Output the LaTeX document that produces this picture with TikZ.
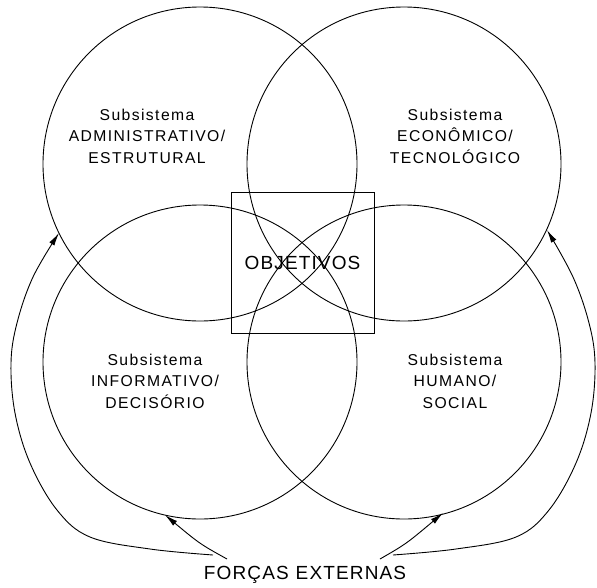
\documentclass[tikz,border=0pt]{standalone}
\usepackage{fontspec}
\setmainfont{Liberation Sans}
\newfontfamily\lab[LetterSpace=9]{Liberation Sans}
\newfontfamily\biglab[LetterSpace=6]{Liberation Sans}
\usetikzlibrary{arrows.meta}
\begin{document}
\begin{tikzpicture}[x=1pt,y=-1pt,
  ring/.style={draw, circle, line width=0.9pt, minimum size=314pt, inner sep=0pt},
  sub/.style={align=center, font=\lab\fontsize{15.7}{21.5}\selectfont, inner sep=0pt},
  force/.style={line width=0.9pt, -{Latex[length=13pt,width=6pt]}}]
\useasboundingbox (0,0) rectangle (597,587);
\node[ring] (tl) at (200,164) {};
\node[ring] (tr) at (404,164) {};
\node[ring] (bl) at (200,362) {};
\node[ring] (br) at (404,362) {};
\node[draw, line width=0.9pt, minimum width=143pt, minimum height=141pt, inner sep=0pt,
      font=\biglab\fontsize{19}{20}\selectfont] (obj) at (302.5,262.5) {OBJETIVOS};
\node[sub] (ttl) at (147,136) {Subsistema\\ADMINISTRATIVO/\\ESTRUTURAL};
\node[sub] (ttr) at (455,136) {Subsistema\\ECONÔMICO/\\TECNOLÓGICO};
\node[sub] (tbl) at (155,381) {Subsistema\\INFORMATIVO/\\DECISÓRIO};
\node[sub] (tbr) at (455,381) {Subsistema\\HUMANO/\\SOCIAL};
\node[inner sep=0pt, font=\biglab\fontsize{19}{20}\selectfont] (fe) at (305,575) {FORÇAS\hspace{7pt}EXTERNAS};
\coordinate (la) at (227,559);
\coordinate (lt) at (165,515);
\coordinate (ra) at (380,559);
\coordinate (rt) at (443,513);
\draw[force] (la) .. controls (200,544) .. (lt);
\draw[force] (ra) .. controls (406,544) .. (rt);
\draw[force] plot[smooth, tension=0.6] coordinates {(213,555) (150,549) (90,537) (57,510) (30,463) (15,413) (11,363) (17,323) (33,277) (59,233)};
\draw[force] plot[smooth, tension=0.6] coordinates {(393,555) (456,549) (516,537) (549,510) (576,463) (591,413) (595,363) (589,323) (573,277) (547,230)};
\end{tikzpicture}
\end{document}
